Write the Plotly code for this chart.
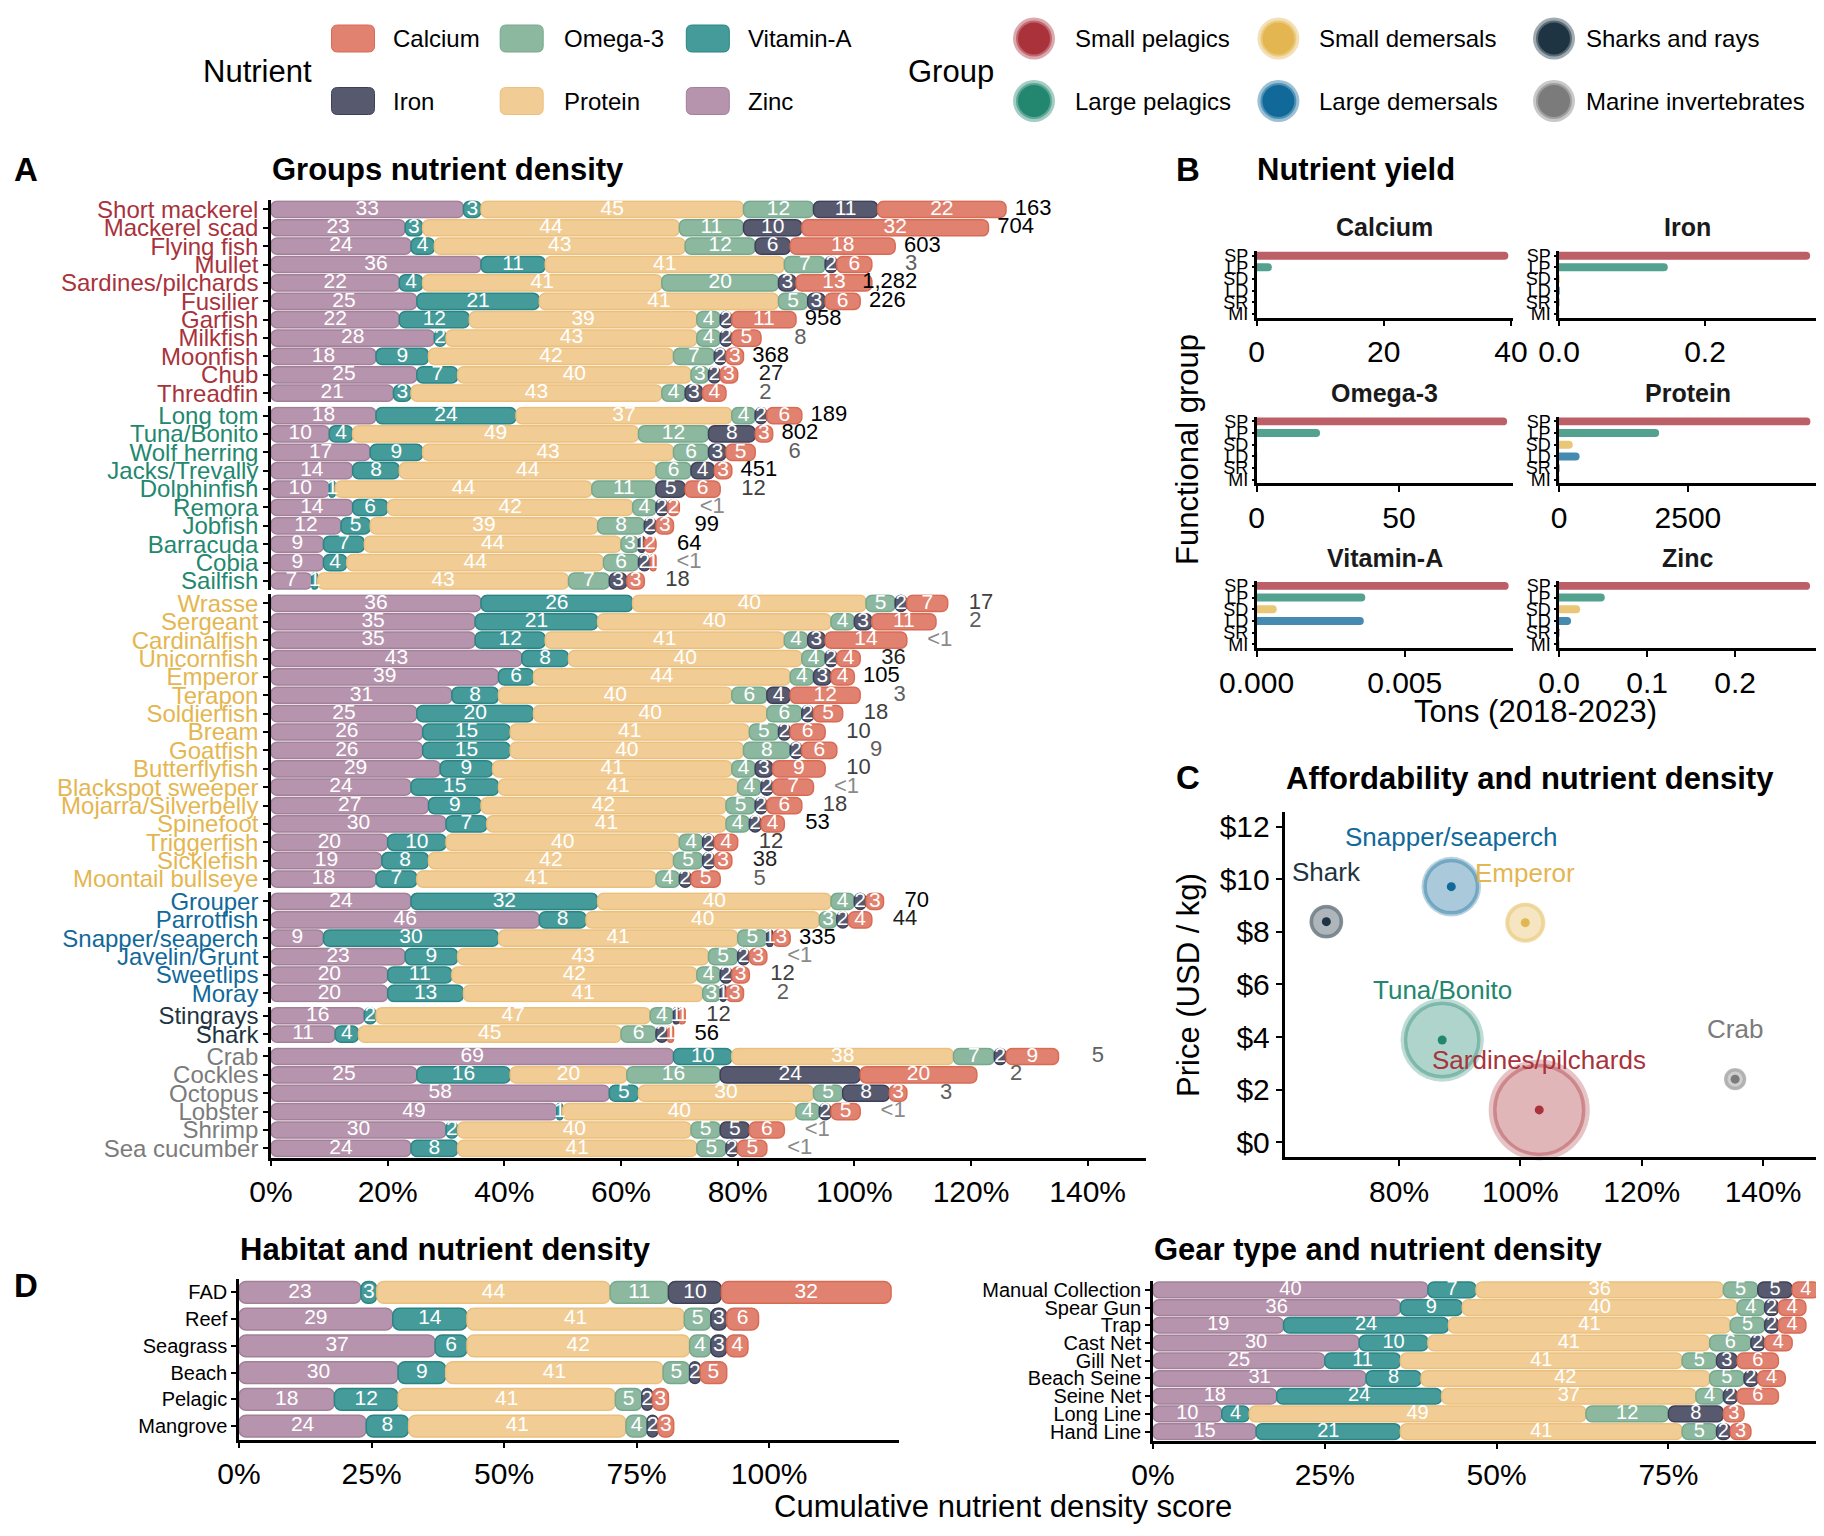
import math
import plotly.graph_objects as go

# page body has an 8px margin: figure is sized to fit and coordinates are screen pixels
OFF = 8
W, H = 1816, 1528
FONT = "Liberation Sans, Arial, Helvetica, sans-serif"

# ---------------- DATA ----------------
nutrients = ["Zinc", "Vitamin-A", "Protein", "Omega-3", "Iron", "Calcium"]
legend_nutrients = ["Calcium", "Omega-3", "Vitamin-A", "Iron", "Protein", "Zinc"]
groups = ["Small pelagics", "Large pelagics", "Small demersals",
          "Large demersals", "Sharks and rays", "Marine invertebrates"]
legend_groups = ["Small pelagics", "Small demersals", "Sharks and rays",
                 "Large pelagics", "Large demersals", "Marine invertebrates"]

species = ["Short mackerel", "Mackerel scad", "Flying fish", "Mullet", "Sardines/pilchards",
           "Fusilier", "Garfish", "Milkfish", "Moonfish", "Chub", "Threadfin",
           "Long tom", "Tuna/Bonito", "Wolf herring", "Jacks/Trevally", "Dolphinfish",
           "Remora", "Jobfish", "Barracuda", "Cobia", "Sailfish",
           "Wrasse", "Sergeant", "Cardinalfish", "Unicornfish", "Emperor", "Terapon",
           "Soldierfish", "Bream", "Goatfish", "Butterflyfish", "Blackspot sweeper",
           "Mojarra/Silverbelly", "Spinefoot", "Triggerfish", "Sicklefish", "Moontail bullseye",
           "Grouper", "Parrotfish", "Snapper/seaperch", "Javelin/Grunt", "Sweetlips", "Moray",
           "Stingrays", "Shark",
           "Crab", "Cockles", "Octopus", "Lobster", "Shrimp", "Sea cucumber"]
species_group = (["Small pelagics"] * 11 + ["Large pelagics"] * 10 + ["Small demersals"] * 16
                 + ["Large demersals"] * 6 + ["Sharks and rays"] * 2 + ["Marine invertebrates"] * 6)

sp_zinc = [33, 23, 24, 36, 22, 25, 22, 28, 18, 25, 21,
           18, 10, 17, 14, 10, 14, 12, 9, 9, 7,
           36, 35, 35, 43, 39, 31, 25, 26, 26, 29, 24, 27, 30, 20, 19, 18,
           24, 46, 9, 23, 20, 20,
           16, 11,
           69, 25, 58, 49, 30, 24]
sp_vita = [3, 3, 4, 11, 4, 21, 12, 2, 9, 7, 3,
           24, 4, 9, 8, 1, 6, 5, 7, 4, 1,
           26, 21, 12, 8, 6, 8, 20, 15, 15, 9, 15, 9, 7, 10, 8, 7,
           32, 8, 30, 9, 11, 13,
           2, 4,
           10, 16, 5, 1, 2, 8]
sp_protein = [45, 44, 43, 41, 41, 41, 39, 43, 42, 40, 43,
              37, 49, 43, 44, 44, 42, 39, 44, 44, 43,
              40, 40, 41, 40, 44, 40, 40, 41, 40, 41, 41, 42, 41, 40, 42, 41,
              40, 40, 41, 43, 42, 41,
              47, 45,
              38, 20, 30, 40, 40, 41]
sp_omega3 = [12, 11, 12, 7, 20, 5, 4, 4, 7, 3, 4,
             4, 12, 6, 6, 11, 4, 8, 3, 6, 7,
             5, 4, 4, 4, 4, 6, 6, 5, 8, 4, 4, 5, 4, 4, 5, 4,
             4, 3, 5, 5, 4, 3,
             4, 6,
             7, 16, 5, 4, 5, 5]
sp_iron = [11, 10, 6, 2, 3, 3, 2, 2, 2, 2, 3,
           2, 8, 3, 4, 5, 2, 2, 1, 2, 3,
           2, 3, 3, 2, 3, 4, 2, 2, 2, 3, 2, 2, 2, 2, 2, 2,
           2, 2, 1, 2, 2, 1,
           1, 2,
           2, 24, 8, 2, 5, 2]
sp_calcium = [22, 32, 18, 6, 13, 6, 11, 5, 3, 3, 4,
              6, 3, 5, 3, 6, 2, 3, 2, 1, 3,
              7, 11, 14, 4, 4, 12, 5, 6, 6, 9, 7, 6, 4, 4, 3, 5,
              3, 4, 3, 3, 3, 3,
              1, 1,
              9, 20, 3, 5, 6, 5]
# landings (t); 0.5 stands for "<1"
sp_landings = [163, 704, 603, 3, 1282, 226, 958, 8, 368, 27, 2,
               189, 802, 6, 451, 12, 0.5, 99, 64, 0.5, 18,
               17, 2, 0.5, 36, 105, 3, 18, 10, 9, 10, 0.5, 18, 53, 12, 38, 5,
               70, 44, 335, 0.5, 12, 2,
               12, 56,
               5, 2, 3, 0.5, 0.5, 0.5]

habitat = ["FAD", "Reef", "Seagrass", "Beach", "Pelagic", "Mangrove"]
hab_zinc = [23, 29, 37, 30, 18, 24]
hab_vita = [3, 14, 6, 9, 12, 8]
hab_protein = [44, 41, 42, 41, 41, 41]
hab_omega3 = [11, 5, 4, 5, 5, 4]
hab_iron = [10, 3, 3, 2, 2, 2]
hab_calcium = [32, 6, 4, 5, 3, 3]

gear = ["Manual Collection", "Spear Gun", "Trap", "Cast Net", "Gill Net",
        "Beach Seine", "Seine Net", "Long Line", "Hand Line"]
gear_zinc = [40, 36, 19, 30, 25, 31, 18, 10, 15]
gear_vita = [7, 9, 24, 10, 11, 8, 24, 4, 21]
gear_protein = [36, 40, 41, 41, 41, 42, 37, 49, 41]
gear_omega3 = [5, 4, 5, 6, 5, 5, 4, 12, 5]
gear_iron = [5, 2, 2, 2, 3, 2, 2, 8, 2]
gear_calcium = [4, 4, 4, 4, 6, 4, 6, 3, 3]

fg_codes = ["SP", "LP", "SD", "LD", "SR", "MI"]
yield_calcium = [39.6, 2.4, 0.05, 0.05, 0.02, 0.02]
yield_iron = [0.344, 0.149, 0.001, 0.001, 0.0005, 0.0005]
yield_omega3 = [88.0, 22.3, 0.2, 0.2, 0.05, 0.05]
yield_protein = [4875, 1942, 267, 400, 10, 5]
yield_vita = [0.00851, 0.00367, 0.00068, 0.00362, 0.00001, 0.00001]
yield_zinc = [0.285, 0.052, 0.024, 0.0137, 0.0005, 0.0005]

c_species = ["Sardines/pilchards", "Tuna/Bonito", "Snapper/seaperch", "Emperor", "Shark", "Crab"]
c_group = ["Small pelagics", "Large pelagics", "Large demersals", "Small demersals",
           "Sharks and rays", "Marine invertebrates"]
c_score = [103.1, 87.1, 88.6, 100.8, 68.0, 135.4]
c_price = [1.23, 3.89, 9.72, 8.35, 8.39, 2.40]
c_landings = [1282, 802, 335, 105, 56, 5]

# ---------------- STYLE ----------------
nut_fill = {"Zinc": "#B694AD", "Vitamin-A": "#449B9A", "Protein": "#F1CD95",
            "Omega-3": "#8DB8A0", "Iron": "#575A6F", "Calcium": "#E0826F"}
nut_line = {"Zinc": "#A38099", "Vitamin-A": "#2A8484", "Protein": "#EBC07C",
            "Omega-3": "#76A88B", "Iron": "#3E4058", "Calcium": "#D86B55"}
group_color = {"Small pelagics": "#A9323B", "Large pelagics": "#23876F",
               "Small demersals": "#E4B651", "Large demersals": "#11699A",
               "Sharks and rays": "#1E3442", "Marine invertebrates": "#7B7B7B"}
fg_group = dict(zip(fg_codes, groups))


def rgba(h, a):
    h = h.lstrip("#")
    return "rgba(%d,%d,%d,%.3f)" % (int(h[0:2], 16), int(h[2:4], 16), int(h[4:6], 16), a)


def PX(x):
    return (x - OFF) / W


def PY(y):
    return 1 - (y - OFF) / H


def xdom(a, b):
    return [PX(a), PX(b)]


def ydom(top, bottom):
    return [PY(bottom), PY(top)]


def land_text(v):
    return "<1" if v < 1 else f"{int(v):,}"


def land_color(v):
    if v >= 50:
        return "#000000"
    if v >= 20:
        return "#1f1f1f"
    if v >= 10:
        return "#404040"
    if v >= 1:
        return "#606060"
    return "#8a8a8a"


def axis(**kw):
    d = dict(showline=True, linecolor="black", linewidth=2.5, ticks="outside",
             ticklen=6, tickwidth=2, tickcolor="black", showgrid=False, zeroline=False,
             fixedrange=True, automargin=False,
             tickfont=dict(size=30, color="black", family=FONT))
    d.update(kw)
    return d


def cat_axis(names, **kw):
    return axis(type="category", categoryorder="array", categoryarray=names,
                tickmode="array", tickvals=names, ticktext=names, **kw)


fig = go.Figure()
layout = {}
annotations = []
shapes = []


def add_stack(names, arrays, xa, ya, width, radius, tsize):
    base = [0] * len(names)
    lx, ly, lt = [], [], []
    for nut in nutrients:
        vals = arrays[nut]
        fig.add_trace(go.Bar(
            x=vals, y=names, base=base, orientation="h", xaxis=xa, yaxis=ya,
            width=width, name=nut, showlegend=False,
            marker=dict(color=nut_fill[nut], line=dict(color=nut_line[nut], width=1.5),
                        cornerradius=radius),
            textposition="none", hoverinfo="skip"))
        for b, v, nm in zip(base, vals, names):
            lx.append(b + v / 2)
            ly.append(nm)
            lt.append(str(v))
        base = [b + v for b, v in zip(base, vals)]
    fig.add_trace(go.Scatter(
        x=lx, y=ly, text=lt, mode="text", xaxis=xa, yaxis=ya, textposition="middle center",
        textfont=dict(size=tsize, color="white", family=FONT),
        showlegend=False, hoverinfo="skip", cliponaxis=False))
    return base


# ---------------- PANEL A ----------------
PITCH, GAP, TOP = 18.38, 4.0, 200.2
sp_arrays = {"Zinc": sp_zinc, "Vitamin-A": sp_vita, "Protein": sp_protein,
             "Omega-3": sp_omega3, "Iron": sp_iron, "Calcium": sp_calcium}
t = TOP
for gi, g in enumerate(groups):
    idx = [i for i, s in enumerate(species_group) if s == g]
    names = [species[i] for i in idx]
    n = len(idx)
    ya = "y" if gi == 0 else f"y{gi + 1}"
    arrs = {k: [v[i] for i in idx] for k, v in sp_arrays.items()}
    totals = add_stack(names, arrs, "x", ya, 0.88, 6, 21)
    lands = [sp_landings[i] for i in idx]
    fig.add_trace(go.Scatter(
        x=[tt + 7.8 for tt in totals], y=names, mode="text", xaxis="x", yaxis=ya,
        text=[land_text(v) for v in lands], textposition="middle left",
        textfont=dict(size=22, family=FONT, color=[land_color(v) for v in lands]),
        showlegend=False, hoverinfo="skip", cliponaxis=False))
    key = "yaxis" if gi == 0 else f"yaxis{gi + 1}"
    layout[key] = cat_axis(names, domain=ydom(t, t + n * PITCH), anchor="x",
                           range=[n - 0.5, -0.5], ticklen=5,
                           tickfont=dict(size=24, color=group_color[g], family=FONT))
    t += n * PITCH + GAP

a_ticks = list(range(0, 141, 20))
layout["xaxis"] = axis(domain=xdom(271, 1146), anchor="y6", range=[0, 150],
                       tickmode="array", tickvals=a_ticks, ticktext=[f"{v}%" for v in a_ticks])

# ---------------- PANEL D ----------------
hab_arrays = {"Zinc": hab_zinc, "Vitamin-A": hab_vita, "Protein": hab_protein,
              "Omega-3": hab_omega3, "Iron": hab_iron, "Calcium": hab_calcium}
add_stack(habitat, hab_arrays, "x7", "y7", 0.82, 7, 21)
layout["yaxis7"] = cat_axis(habitat, domain=ydom(1279, 1439.5), anchor="x7",
                            range=[len(habitat) - 0.5, -0.5], ticklen=5,
                            tickfont=dict(size=20, color="black", family=FONT))
d1_ticks = [0, 25, 50, 75, 100]
layout["xaxis7"] = axis(domain=xdom(239, 899), anchor="y7", range=[0, 124.5],
                        tickmode="array", tickvals=d1_ticks, ticktext=[f"{v}%" for v in d1_ticks])

gear_arrays = {"Zinc": gear_zinc, "Vitamin-A": gear_vita, "Protein": gear_protein,
               "Omega-3": gear_omega3, "Iron": gear_iron, "Calcium": gear_calcium}
add_stack(gear, gear_arrays, "x8", "y8", 0.88, 6, 20)
layout["yaxis8"] = cat_axis(gear, domain=ydom(1281, 1440.5), anchor="x8",
                            range=[len(gear) - 0.5, -0.5], ticklen=5,
                            tickfont=dict(size=20, color="black", family=FONT))
d2_ticks = [0, 25, 50, 75]
layout["xaxis8"] = axis(domain=xdom(1153, 1821), anchor="y8", range=[0, 97.2],
                        tickmode="array", tickvals=d2_ticks, ticktext=[f"{v}%" for v in d2_ticks])

# ---------------- PANEL B ----------------
b_panels = [("Calcium", yield_calcium, [0, 40.3], [0, 20, 40], ["0", "20", "40"]),
            ("Iron", yield_iron, [0, 0.352], [0, 0.2], ["0.0", "0.2"]),
            ("Omega-3", yield_omega3, [0, 90], [0, 50], ["0", "50"]),
            ("Protein", yield_protein, [0, 4983], [0, 2500], ["0", "2500"]),
            ("Vitamin-A", yield_vita, [0, 0.00865], [0, 0.005], ["0.000", "0.005"]),
            ("Zinc", yield_zinc, [0, 0.2917], [0, 0.1, 0.2], ["0.0", "0.1", "0.2"])]
b_cols = [(1256.6, 1512.8), (1559, 1816)]
b_rows = [(251, 317.5), (416.7, 483.3), (581.2, 648)]
b_titles_y = [227, 393, 557.6]
for i, (nut, vals, rng, tv, tt) in enumerate(b_panels):
    r, c = divmod(i, 2)
    n = 9 + i
    fig.add_trace(go.Bar(
        x=vals, y=fg_codes, orientation="h", xaxis=f"x{n}", yaxis=f"y{n}", width=0.68,
        marker=dict(color=[rgba(group_color[fg_group[f]], 0.78) for f in fg_codes],
                    line=dict(width=0), cornerradius=4),
        showlegend=False, hoverinfo="skip"))
    layout[f"xaxis{n}"] = axis(domain=xdom(*b_cols[c]), anchor=f"y{n}", range=rng,
                               tickmode="array", tickvals=tv, ticktext=tt)
    layout[f"yaxis{n}"] = cat_axis(fg_codes, domain=ydom(*b_rows[r]), anchor=f"x{n}",
                                   range=[5.3, -0.4], ticklen=2,
                                   tickfont=dict(size=18, color="black", family=FONT))
    annotations.append(dict(text=f"<b>{nut}</b>", x=PX(sum(b_cols[c]) / 2),
                            y=PY(b_titles_y[r]), xref="paper", yref="paper",
                            showarrow=False, xanchor="center", yanchor="middle",
                            font=dict(size=25, family=FONT, color="#1a1a1a")))

# ---------------- PANEL C ----------------
c_cols = [group_color[g] for g in c_group]
c_size = [16.2 + 2.37 * math.sqrt(v) for v in c_landings]
fig.add_trace(go.Scatter(
    x=c_score, y=c_price, mode="markers", xaxis="x15", yaxis="y15",
    marker=dict(size=c_size, color=[rgba(col, 0.42) for col in c_cols], line=dict(width=0)),
    showlegend=False, hoverinfo="skip", cliponaxis=False))
fig.add_trace(go.Scatter(
    x=c_score, y=c_price, mode="markers", xaxis="x15", yaxis="y15",
    marker=dict(size=[s * 0.88 for s in c_size], color=[rgba(col, 0.12) for col in c_cols],
                line=dict(width=3.5, color=[rgba(col, 0.55) for col in c_cols])),
    showlegend=False, hoverinfo="skip", cliponaxis=False))
fig.add_trace(go.Scatter(
    x=c_score, y=c_price, mode="markers", xaxis="x15", yaxis="y15",
    marker=dict(size=9, color=c_cols, line=dict(width=0)),
    showlegend=False, hoverinfo="skip", cliponaxis=False))
for sp, g, xs, yp in zip(c_species, c_group, c_score, c_price):
    annotations.append(dict(text=sp, x=xs, y=yp, xref="x15", yref="y15", yshift=50,
                            showarrow=False, xanchor="center", yanchor="middle",
                            font=dict(size=26, family=FONT, color=group_color[g])))
c_xt = [80, 100, 120, 140]
c_yt = [0, 2, 4, 6, 8, 10, 12]
layout["xaxis15"] = axis(domain=xdom(1284.5, 1815.8), anchor="y15", range=[61.1, 148.7],
                         tickmode="array", tickvals=c_xt, ticktext=[f"{v}%" for v in c_xt])
layout["yaxis15"] = axis(domain=ydom(811.7, 1157), anchor="x15", range=[-0.56, 12.57],
                         tickmode="array", tickvals=c_yt, ticktext=[f"${v}" for v in c_yt])


# ---------------- TEXT ----------------
def ann(text, x, y, size, xanchor="left", bold=False, angle=0, color="black"):
    annotations.append(dict(text=f"<b>{text}</b>" if bold else text, x=PX(x), y=PY(y),
                            xref="paper", yref="paper", showarrow=False, xanchor=xanchor,
                            yanchor="middle", textangle=angle,
                            font=dict(size=size, family=FONT, color=color)))


ann("A", 12, 169, 33, bold=True)
ann("Groups nutrient density", 270, 169, 31, bold=True)
ann("B", 1174, 169, 33, bold=True)
ann("Nutrient yield", 1255, 169, 31, bold=True)
ann("C", 1174, 777, 33, bold=True)
ann("Affordability and nutrient density", 1284, 778, 31, bold=True)
ann("D", 12, 1285, 33, bold=True)
ann("Habitat and nutrient density", 238, 1249, 31, bold=True)
ann("Gear type and nutrient density", 1152, 1249, 31, bold=True)
ann("Tons (2018-2023)", 1535, 711, 31, xanchor="center")
ann("Functional group", 1188, 450, 31, xanchor="center", angle=-90)
ann("Price (USD / kg)", 1188, 985, 31, xanchor="center", angle=-90)
ann("Cumulative nutrient density score", 1003, 1506, 31, xanchor="center")

# ---------------- LEGENDS (drawn) ----------------
ann("Nutrient", 201, 71, 31)
ann("Group", 906, 71, 31)


def rrect_path(x0, y0, x1, y1, r):
    return (f"M {PX(x0 + r)},{PY(y0)} L {PX(x1 - r)},{PY(y0)} Q {PX(x1)},{PY(y0)} {PX(x1)},{PY(y0 + r)} "
            f"L {PX(x1)},{PY(y1 - r)} Q {PX(x1)},{PY(y1)} {PX(x1 - r)},{PY(y1)} "
            f"L {PX(x0 + r)},{PY(y1)} Q {PX(x0)},{PY(y1)} {PX(x0)},{PY(y1 - r)} "
            f"L {PX(x0)},{PY(y0 + r)} Q {PX(x0)},{PY(y0)} {PX(x0 + r)},{PY(y0)} Z")


sw_x = [331.5, 500.2, 686.3]
tx_x = [391, 562, 746]
rows_y = [38.5, 101]
for k, nut in enumerate(legend_nutrients):
    r, c = divmod(k, 3)
    cy = rows_y[r]
    shapes.append(dict(type="path", xref="paper", yref="paper",
                       path=rrect_path(sw_x[c], cy - 13.5, sw_x[c] + 43, cy + 13.5, 6),
                       fillcolor=nut_fill[nut], line=dict(color=nut_line[nut], width=1)))
    ann(nut, tx_x[c], cy, 24)

gc_x = [1034, 1278.4, 1554]
gt_x = [1072.5, 1316.8, 1584.4]
for k, g in enumerate(legend_groups):
    r, c = divmod(k, 3)
    cy = rows_y[r]
    for rad, col in [(21, rgba(group_color[g], 0.42)), (18, rgba(group_color[g], 0.55)),
                     (16, group_color[g])]:
        shapes.append(dict(type="circle", xref="paper", yref="paper",
                           x0=PX(gc_x[c] - rad), x1=PX(gc_x[c] + rad),
                           y0=PY(cy + rad), y1=PY(cy - rad),
                           fillcolor=col, line=dict(width=0)))
    ann(g, gt_x[c], cy, 24)

layout.update(dict(
    width=W, height=H, margin=dict(l=0, r=0, t=0, b=0, pad=0, autoexpand=False),
    paper_bgcolor="white", plot_bgcolor="white", barmode="overlay",
    showlegend=False, hovermode=False, font=dict(family=FONT, color="black"),
    annotations=annotations, shapes=shapes))
fig.update_layout(**layout)

fig.write_html("out.html")
